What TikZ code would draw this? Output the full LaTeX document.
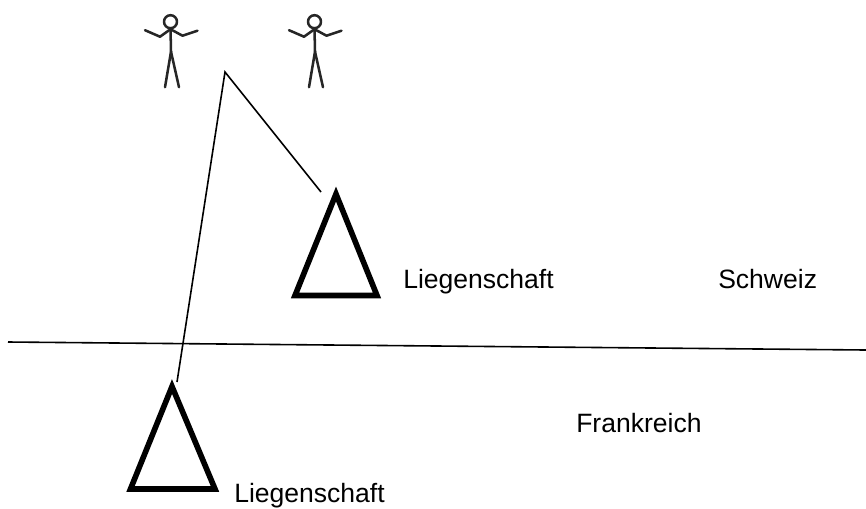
\documentclass[tikz,border=0pt]{standalone}
\usepackage{fontspec}
\setmainfont{Liberation Sans}
\tikzset{
  plot label/.style={anchor=base west,inner sep=0pt,font=\fontsize{19.9}{23}\selectfont},
  plot triangle/.style={draw=black,line width=4.2pt,miter limit=10},
  link line/.style={draw=black,line width=1.2pt},
  stick line/.style={draw=black!85,line width=1.9pt,line cap=round,line join=round},
  pics/stick person/.style={code={
    \draw[stick line] (0,0) circle (6.5);
    \draw[stick line] (0,6.5) -- (0.5,30) -- (-5.5,65.5);
    \draw[stick line] (0.5,30) -- (8.5,65.5);
    \draw[stick line] (0,7.5) -- (-10.5,15) -- (-25.5,8.5);
    \draw[stick line] (0,7.5) -- (12,14) -- (27,9);
  }}
}
\begin{document}
\begin{tikzpicture}[x=0.75pt,y=-0.75pt]
  \useasboundingbox (0,0) rectangle (866,508);

  % owners
  \pic at (170.5,21.7) {stick person};
  \pic at (314.5,21.7) {stick person};

  % properties
  \coordinate (swissTop) at (336,194);
  \coordinate (swissLeft) at (295,295.5);
  \coordinate (swissRight) at (377,295.5);
  \draw[plot triangle] (swissTop) -- (swissLeft) -- (swissRight) -- cycle;

  \coordinate (frenchTop) at (172,386.5);
  \coordinate (frenchLeft) at (130.5,489);
  \coordinate (frenchRight) at (215,489);
  \draw[plot triangle] (frenchTop) -- (frenchLeft) -- (frenchRight) -- cycle;

  % links
  \coordinate (apex) at (225,72);
  \coordinate (swissEnd) at (321,192);
  \coordinate (frenchEnd) at (177,382);
  \draw[link line] (frenchEnd) -- (apex) -- (swissEnd);

  % border
  \coordinate (borderWest) at (8,342);
  \coordinate (borderEast) at (866,350);
  \draw[link line] (borderWest) -- (borderEast);

  \node[plot label] (swissLabel) at (403,288) {Liegenschaft};
  \node[plot label] (frenchLabel) at (234,502) {Liegenschaft};
  \node[plot label] (schweiz) at (718,288) {Schweiz};
  \node[plot label] (frankreich) at (576,432) {Frankreich};
\end{tikzpicture}
\end{document}
